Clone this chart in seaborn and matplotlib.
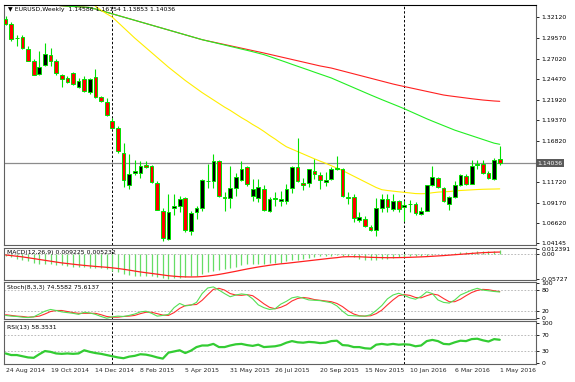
import numpy as np
import pandas as pd
import matplotlib
matplotlib.use("Agg")
import matplotlib.pyplot as plt
import matplotlib.transforms as mtransforms
import seaborn as sns

# ---------------- data ----------------
date_labels = ["24 Aug 2014", "19 Oct 2014", "14 Dec 2014", "8 Feb 2015", "5 Apr 2015",
               "31 May 2015", "26 Jul 2015", "20 Sep 2015", "15 Nov 2015", "10 Jan 2016",
               "6 Mar 2016", "1 May 2016"]

opens = [1.3196, 1.3125, 1.2950, 1.2967, 1.2822, 1.2677, 1.2511, 1.2623, 1.2748, 1.2665,
         1.2503, 1.2462, 1.2519, 1.2354, 1.2453, 1.2283, 1.2470, 1.2221, 1.2167, 1.1931,
         1.1840, 1.1536, 1.1138, 1.1284, 1.1288, 1.1383, 1.1371, 1.1163, 1.0819, 1.0471,
         1.0852, 1.0873, 1.0969, 1.0563, 1.0802, 1.0852, 1.1184, 1.1184, 1.1433, 1.0989,
         1.0969, 1.1093, 1.1197, 1.1354, 1.0998, 1.0976, 1.1081, 1.0819, 1.0965, 1.0944,
         1.0935, 1.1093, 1.1354, 1.1156, 1.1156, 1.1308, 1.1259, 1.1168, 1.1213, 1.1340,
         1.1329, 1.0985, 1.0985, 1.0708, 1.0720, 1.0616, 1.0575, 1.0852, 1.0957, 1.0844,
         1.0935, 1.0861, 1.0902, 1.0902, 1.0778, 1.0819, 1.1134, 1.1218, 1.1093, 1.0902,
         1.0985, 1.1134, 1.1247, 1.1151, 1.1388, 1.1391, 1.1287, 1.1205, 1.14586]
highs = [1.3222, 1.3160, 1.2990, 1.2990, 1.2862, 1.2700, 1.2789, 1.2892, 1.2830, 1.2690,
         1.2510, 1.2490, 1.2540, 1.2460, 1.2490, 1.2465, 1.2574, 1.2240, 1.2217, 1.1968,
         1.1871, 1.1661, 1.1524, 1.1445, 1.1433, 1.1433, 1.1380, 1.1180, 1.0850, 1.1019,
         1.1019, 1.1000, 1.0990, 1.0820, 1.0880, 1.1215, 1.1391, 1.1516, 1.1450, 1.1050,
         1.1371, 1.1280, 1.1433, 1.1371, 1.1205, 1.1215, 1.1130, 1.0990, 1.1050, 1.1060,
         1.1150, 1.1375, 1.1715, 1.1220, 1.1340, 1.1454, 1.1300, 1.1300, 1.1360, 1.1495,
         1.1350, 1.1050, 1.1020, 1.0800, 1.0750, 1.0640, 1.0969, 1.1020, 1.1030, 1.1030,
         1.0950, 1.0935, 1.0950, 1.0930, 1.0860, 1.1140, 1.1371, 1.1240, 1.1110, 1.1000,
         1.1180, 1.1270, 1.1270, 1.1440, 1.1441, 1.1441, 1.1310, 1.1470, 1.16154]
lows = [1.3118, 1.2920, 1.2862, 1.2825, 1.2670, 1.2500, 1.2500, 1.2610, 1.2615, 1.2503,
        1.2354, 1.2395, 1.2380, 1.2340, 1.2285, 1.2257, 1.2210, 1.2160, 1.1985, 1.1836,
        1.1536, 1.1110, 1.1081, 1.1260, 1.1226, 1.1342, 1.1160, 1.0825, 1.0447, 1.0460,
        1.0770, 1.0800, 1.0560, 1.0520, 1.0720, 1.0820, 1.1101, 1.1101, 1.0990, 1.0820,
        1.0852, 1.1000, 1.1180, 1.1120, 1.0935, 1.0920, 1.0810, 1.0800, 1.0880, 1.0880,
        1.0900, 1.1040, 1.1170, 1.1080, 1.1110, 1.1210, 1.1090, 1.1120, 1.1200, 1.1320,
        1.0990, 1.0900, 1.0680, 1.0680, 1.0610, 1.0570, 1.0500, 1.0800, 1.0800, 1.0810,
        1.0800, 1.0687, 1.0800, 1.0770, 1.0770, 1.0810, 1.1120, 1.1100, 1.0920, 1.0825,
        1.0970, 1.1120, 1.1140, 1.1145, 1.1330, 1.1270, 1.1205, 1.1195, 1.13853]
closes = [1.3134, 1.2947, 1.2955, 1.2835, 1.2677, 1.2503, 1.2602, 1.2760, 1.2665, 1.2519,
          1.2444, 1.2416, 1.2387, 1.2428, 1.2304, 1.2444, 1.2221, 1.2171, 1.2001, 1.1840,
          1.1557, 1.1197, 1.1275, 1.1308, 1.1371, 1.1358, 1.1172, 1.0832, 1.0479, 1.0798,
          1.0873, 1.0957, 1.0584, 1.0790, 1.0852, 1.1197, 1.1186, 1.1433, 1.0998, 1.0969,
          1.1093, 1.1234, 1.1329, 1.1147, 1.1088, 1.1113, 1.0823, 1.0957, 1.0969, 1.0965,
          1.1081, 1.1354, 1.1180, 1.1134, 1.1329, 1.1267, 1.1197, 1.1197, 1.1337, 1.1344,
          1.0998, 1.0977, 1.0728, 1.0736, 1.0624, 1.0575, 1.0852, 1.0965, 1.0861, 1.0935,
          1.0844, 1.0894, 1.0904, 1.0790, 1.0819, 1.1134, 1.1234, 1.1109, 1.0935, 1.0985,
          1.1134, 1.1255, 1.1151, 1.1371, 1.1391, 1.1287, 1.1218, 1.1441, 1.14036]

# moving averages (values from the first visible bar onward)
ma_yellow_start = 15
ma_yellow = [1.3400, 1.3350, 1.3300, 1.3255, 1.3215, 1.3150, 1.3085, 1.3020, 1.2955, 1.2895,
             1.2835, 1.2775, 1.2715, 1.2655, 1.2595, 1.2540, 1.2485, 1.2430, 1.2380, 1.2330,
             1.2280, 1.2235, 1.2190, 1.2145, 1.2100, 1.2060, 1.2015, 1.1970, 1.1930, 1.1885,
             1.1845, 1.1800, 1.1750, 1.1705, 1.1655, 1.1610, 1.1580, 1.1550, 1.1520, 1.1490,
             1.1460, 1.1432, 1.1405, 1.1375, 1.1345, 1.1315, 1.1280, 1.1245, 1.1210, 1.1175,
             1.1140, 1.1105, 1.1078, 1.1068, 1.1060, 1.1052, 1.1045, 1.1038, 1.1030, 1.1028,
             1.1030, 1.1040, 1.1048, 1.1052, 1.1055, 1.1062, 1.1068, 1.1072, 1.1076, 1.1080,
             1.1083, 1.1085, 1.1086, 1.1088]
ma_green_start = 8
ma_green = [1.3372, 1.3362, 1.3355, 1.3350, 1.3346, 1.3342, 1.3338, 1.3333, 1.3315, 1.3295,
            1.3275, 1.3255, 1.3235, 1.3215, 1.3195, 1.3175, 1.3155, 1.3135, 1.3115, 1.3095,
            1.3075, 1.3055, 1.3035, 1.3015, 1.2995, 1.2975, 1.2955, 1.2935, 1.2918, 1.2902,
            1.2885, 1.2869, 1.2852, 1.2836, 1.2819, 1.2803, 1.2786, 1.2768, 1.2750, 1.2727,
            1.2703, 1.2679, 1.2655, 1.2630, 1.2606, 1.2582, 1.2558, 1.2533, 1.2509, 1.2485,
            1.2461, 1.2431, 1.2401, 1.2371, 1.2341, 1.2311, 1.2281, 1.2251, 1.2222, 1.2193,
            1.2165, 1.2137, 1.2109, 1.2080, 1.2049, 1.2018, 1.1987, 1.1956, 1.1927, 1.1899,
            1.1871, 1.1843, 1.1815, 1.1792, 1.1769, 1.1746, 1.1723, 1.1700, 1.1677, 1.1654,
            1.1640]
ma_red_start = 8
ma_red = [1.3372, 1.3362, 1.3355, 1.3350, 1.3346, 1.3342, 1.3338, 1.3333, 1.3315, 1.3295,
          1.3275, 1.3255, 1.3235, 1.3215, 1.3195, 1.3175, 1.3155, 1.3135, 1.3115, 1.3095,
          1.3075, 1.3055, 1.3035, 1.3015, 1.2995, 1.2975, 1.2955, 1.2935, 1.2920, 1.2905,
          1.2890, 1.2875, 1.2860, 1.2845, 1.2830, 1.2815, 1.2800, 1.2785, 1.2770, 1.2754,
          1.2738, 1.2722, 1.2706, 1.2690, 1.2674, 1.2658, 1.2642, 1.2626, 1.2610, 1.2597,
          1.2584, 1.2566, 1.2548, 1.2530, 1.2512, 1.2494, 1.2476, 1.2458, 1.2440, 1.2422,
          1.2404, 1.2386, 1.2370, 1.2355, 1.2340, 1.2325, 1.2310, 1.2295, 1.2280, 1.2265,
          1.2250, 1.2240, 1.2231, 1.2222, 1.2213, 1.2204, 1.2196, 1.2188, 1.2182, 1.2176,
          1.2172]

macd_hist = [-0.0040, -0.0074, -0.0109, -0.0133, -0.0167, -0.0202, -0.0226, -0.0226, -0.0237, -0.0249,
             -0.0260, -0.0272, -0.0284, -0.0295, -0.0295, -0.0307, -0.0319, -0.0330, -0.0353, -0.0377,
             -0.0412, -0.0458, -0.0481, -0.0493, -0.0493, -0.0493, -0.0505, -0.0528, -0.0551, -0.0573,
             -0.0551, -0.0540, -0.0528, -0.0505, -0.0493, -0.0458, -0.0423, -0.0388, -0.0365, -0.0342,
             -0.0319, -0.0295, -0.0260, -0.0237, -0.0226, -0.0214, -0.0214, -0.0202, -0.0202, -0.0191,
             -0.0167, -0.0144, -0.0121, -0.0098, -0.0086, -0.0063, -0.0051, -0.0040, -0.0028, -0.0016,
             -0.0028, -0.0051, -0.0074, -0.0098, -0.0121, -0.0133, -0.0121, -0.0109, -0.0098, -0.0086,
             -0.0074, -0.0063, -0.0051, -0.0051, -0.0051, -0.0028, -0.0005, 0.0007, 0.0007, 0.0007,
             0.0019, 0.0042, 0.0053, 0.0065, 0.0077, 0.0077, 0.0077, 0.0088, 0.0092]
macd_signal = [-0.0016, -0.0030, -0.0045, -0.0060, -0.0080, -0.0100, -0.0120, -0.0140, -0.0160, -0.0180,
               -0.0200, -0.0215, -0.0230, -0.0245, -0.0258, -0.0270, -0.0282, -0.0292, -0.0302, -0.0315,
               -0.0330, -0.0348, -0.0368, -0.0390, -0.0410, -0.0428, -0.0445, -0.0462, -0.0480, -0.0498,
               -0.0510, -0.0520, -0.0525, -0.0527, -0.0525, -0.0518, -0.0505, -0.0488, -0.0468, -0.0445,
               -0.0420, -0.0395, -0.0368, -0.0342, -0.0318, -0.0295, -0.0275, -0.0255, -0.0238, -0.0222,
               -0.0210, -0.0195, -0.0180, -0.0165, -0.0150, -0.0135, -0.0120, -0.0105, -0.0090, -0.0078,
               -0.0060, -0.0056, -0.0056, -0.0058, -0.0064, -0.0070, -0.0074, -0.0077, -0.0079, -0.0079,
               -0.0077, -0.0074, -0.0070, -0.0065, -0.0060, -0.0054, -0.0046, -0.0038, -0.0030, -0.0020,
               -0.0010, 0.0000, 0.0010, 0.0020, 0.0030, 0.0038, 0.0044, 0.0049, 0.0052]

stoch_k = [8, 6, 5, 3, 2, 4, 12, 20, 25, 22, 18, 16, 14, 11, 17, 15, 11, 5, 0, 4,
           6, 5, 8, 12, 18, 20, 14, 6, 8, 11, 30, 42, 35, 37, 45, 70, 86, 89, 80, 70,
           61, 66, 69, 67, 55, 38, 30, 25, 27, 40, 48, 58, 61, 57, 52, 51, 50, 47, 44, 35,
           20, 8, 7, 6, 6, 10, 22, 36, 55, 66, 71, 65, 58, 54, 62, 75, 70, 52, 45, 43,
           52, 66, 73, 80, 85, 80, 78, 76, 74.5582]
stoch_d = [10, 8, 6, 5, 3, 4, 6, 12, 19, 22, 22, 19, 16, 14, 14, 14, 14, 10, 5, 3,
           3, 5, 6, 8, 13, 17, 17, 13, 9, 8, 16, 28, 36, 38, 39, 51, 67, 82, 85, 80,
           70, 66, 65, 67, 64, 53, 41, 31, 27, 31, 38, 49, 56, 59, 57, 53, 51, 49, 47, 42,
           33, 21, 12, 7, 6, 7, 13, 23, 38, 52, 64, 67, 65, 59, 58, 64, 69, 66, 56, 47,
           47, 54, 64, 73, 79, 82, 81, 78, 75.6137]
rsi = [24, 20, 20, 17, 14, 13, 22, 30, 28, 24, 23, 24, 23, 24, 32, 28, 25, 23, 20, 17,
       14, 12, 16, 18, 22, 21, 18, 14, 11, 26, 29, 32, 25, 31, 40, 44, 44, 48, 40, 40,
       44, 47, 48, 45, 43, 46, 40, 41, 42, 45, 51, 55, 52, 51, 53, 52, 50, 51, 55, 56,
       45, 44, 40, 40, 37, 36, 46, 48, 46, 48, 46, 47, 46, 42, 44, 55, 58, 55, 48, 47,
       52, 56, 55, 60, 61, 57, 54, 60, 58.3531]

price_ticks = [1.32120, 1.29570, 1.27020, 1.24470, 1.21920, 1.19370, 1.16820,
               1.11720, 1.09170, 1.06620, 1.04145]
last_price = 1.14036
separator_bars = [19, 71]

# ---------------- style ----------------
sns.set_theme(style="white")
plt.rcParams["font.family"] = ["DejaVu Sans"]
FS = 4.4
GREEN = "#00e000"
W, H = 575, 382

fig = plt.figure(figsize=(5.75, 3.82), dpi=100)
fig.patch.set_facecolor("white")

def add_ax(top, bottom, left=4, right=536):
    return fig.add_axes([left / W, 1 - bottom / H, (right - left) / W, (bottom - top) / H])

ax_main = add_ax(4.5, 245)
ax_macd = add_ax(247.5, 279.5)
ax_sto = add_ax(281.8, 318.8)
ax_rsi = add_ax(321.2, 363.5)
axes = [ax_main, ax_macd, ax_sto, ax_rsi]

n = len(closes)
idx = np.arange(n)
XL = (-0.285, 94.46)

for ax in axes:
    ax.set_facecolor("white")
    ax.set_xlim(*XL)
    for s in ax.spines.values():
        s.set_color("#606060")
        s.set_linewidth(0.8)
    ax.yaxis.tick_right()
    ax.tick_params(axis="y", length=2.5, width=0.6, labelsize=FS, pad=1.2, colors="black", direction="out")
    ax.tick_params(axis="x", length=0, labelbottom=False)
    for b in separator_bars:
        ax.axvline(b, color="black", lw=0.7, ls=(0, (2.5, 2)), zorder=1)
ax_main.spines["top"].set_color("black")

# ---------------- main candles ----------------
o = np.array(opens); h = np.array(highs); l = np.array(lows); c = np.array(closes)
ax_main.vlines(idx, l, h, color=GREEN, lw=0.8, zorder=3)
body_bottom = np.minimum(o, c)
body_h = np.maximum(np.abs(c - o), 0.00005)
fills = ["black" if cc > oo else "red" for oo, cc in zip(o, c)]
ax_main.bar(idx, body_h, bottom=body_bottom, width=0.66, color=fills,
            edgecolor=GREEN, linewidth=0.7, zorder=4)

sns.lineplot(x=np.arange(ma_red_start, ma_red_start + len(ma_red)), y=ma_red, ax=ax_main,
             color="#ff2020", lw=0.8, zorder=2)
sns.lineplot(x=np.arange(ma_green_start, ma_green_start + len(ma_green)), y=ma_green, ax=ax_main,
             color="#22ee22", lw=0.8, zorder=2)
sns.lineplot(x=np.arange(ma_yellow_start, ma_yellow_start + len(ma_yellow)), y=ma_yellow, ax=ax_main,
             color="#ffee00", lw=0.8, zorder=2)

ax_main.axhline(last_price, color="#8c8c8c", lw=0.9, zorder=1.5)
ax_main.set_ylim(1.03933, 1.33705)
ax_main.set_yticks(price_ticks)
ax_main.set_yticklabels([f"{v:.5f}" for v in price_ticks])
trans = mtransforms.blended_transform_factory(ax_main.transAxes, ax_main.transData)
ax_main.text(1.003, last_price, f"{last_price:.5f}", transform=trans, ha="left", va="center",
             fontsize=FS, color="white",
             bbox=dict(boxstyle="square,pad=0.25", fc="#5a5a5a", ec="none"), clip_on=False)
ax_main.set_xlabel(""); ax_main.set_ylabel("")

# ---------------- MACD ----------------
ax_macd.vlines(idx, 0, macd_hist, color="#66dd66", lw=0.9, zorder=3)
sns.lineplot(x=idx, y=macd_signal, ax=ax_macd, color="#ff2020", lw=0.9, zorder=4)
ax_macd.axhline(0, color="#b0b0b0", lw=0.6, ls=(0, (2, 2)), zorder=1)
ax_macd.set_ylim(-0.0586, 0.0158)
ax_macd.set_yticks([0.012391, 0.0, -0.05727])
ax_macd.set_yticklabels(["0.012391", "0.00", "-0.05727"])
ax_macd.set_xlabel(""); ax_macd.set_ylabel("")

# ---------------- Stochastic ----------------
for lev in (80, 20):
    ax_sto.axhline(lev, color="#b0b0b0", lw=0.6, ls=(0, (2, 2)), zorder=1)
sns.lineplot(x=idx, y=stoch_d, ax=ax_sto, color="#ff3030", lw=0.8, zorder=3)
sns.lineplot(x=idx, y=stoch_k, ax=ax_sto, color="#55e055", lw=0.8, zorder=4)
ax_sto.set_ylim(-1.6, 103.5)
ax_sto.set_yticks([100, 80, 20, 0])
ax_sto.set_yticklabels(["100", "80", "20", "0"])
ax_sto.set_xlabel(""); ax_sto.set_ylabel("")

# ---------------- RSI ----------------
for lev in (70, 30):
    ax_rsi.axhline(lev, color="#b0b0b0", lw=0.6, ls=(0, (2, 2)), zorder=1)
sns.lineplot(x=idx, y=rsi, ax=ax_rsi, color="#33cc33", lw=1.6, zorder=3)
ax_rsi.set_ylim(-1.25, 105)
ax_rsi.set_yticks([100, 70, 30, 0])
ax_rsi.set_yticklabels(["100", "70", "30", "0"])
ax_rsi.set_xticks(list(range(0, n, 8)))
ax_rsi.set_xticklabels(date_labels, ha="left")
ax_rsi.tick_params(axis="x", length=2, width=0.6, labelsize=FS, pad=1.5, labelbottom=True, direction="out")
ax_rsi.set_xlabel(""); ax_rsi.set_ylabel("")

# ---------------- header texts ----------------
def ptext(x, y, s, **kw):
    fig.text(x / W, 1 - y / H, s, fontsize=FS, va="center", ha="left", color="black", **kw)

ptext(7.5, 9.5, "\u25BC EURUSD,Weekly  1.14586 1.16154 1.13853 1.14036")
ptext(7, 252.5, "MACD(12,26,9) 0.009225 0.005232")
ptext(7, 287.5, "Stoch(8,3,3) 74.5582 75.6137")
ptext(7, 327.5, "RSI(13) 58.3531")

fig.savefig("out.png", dpi=100, facecolor="white")
